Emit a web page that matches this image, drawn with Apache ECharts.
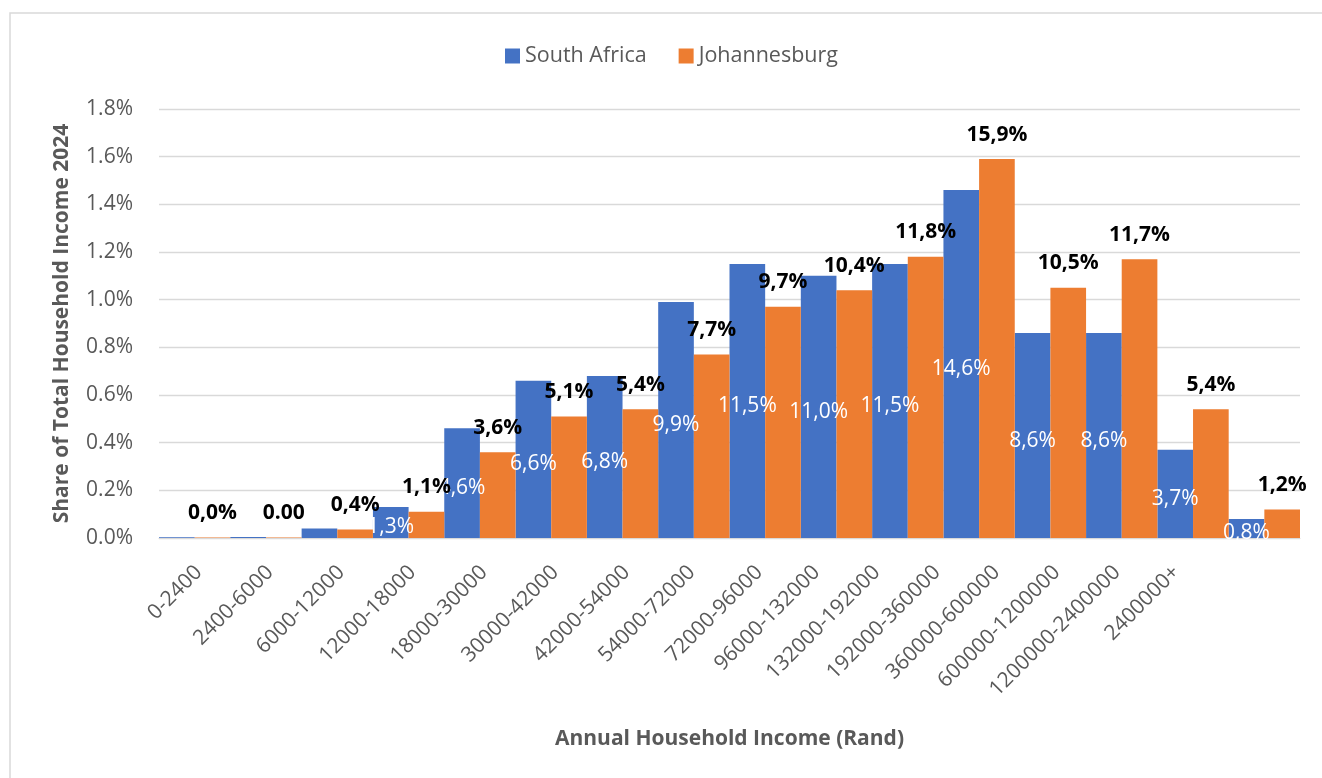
<!DOCTYPE html>
<html>
<head>
<meta charset="utf-8">
<title>Share of Total Household Income 2024</title>
<script src="https://cdn.jsdelivr.net/npm/echarts@6/dist/echarts.min.js"></script>
<style>
  html, body { margin: 0; padding: 0; background: #ffffff; }
  #chart { width: 1322px; height: 778px; }
</style>
</head>
<body>
<div id="chart"></div>
<script>
// Income brackets (Rand per year)
const categories = [
  '0-2400', '2400-6000', '6000-12000', '12000-18000', '18000-30000',
  '30000-42000', '42000-54000', '54000-72000', '72000-96000', '96000-132000',
  '132000-192000', '192000-360000', '360000-600000', '600000-1200000',
  '1200000-2400000', '2400000+'
];

// Share of households per bracket, in percent
const southAfrica = [0.03, 0.04, 0.4, 1.3, 4.6, 6.6, 6.8, 9.9, 11.5, 11.0, 11.5, 14.6, 8.6, 8.6, 3.7, 0.8];
const johannesburg = [0.02, 0.02, 0.36, 1.1, 3.6, 5.1, 5.4, 7.7, 9.7, 10.4, 11.8, 15.9, 10.5, 11.7, 5.4, 1.2];

// Value-axis ticks (the axis itself is scaled in tenths of the label value)
const yTicks = [0, 2, 4, 6, 8, 10, 12, 14, 16, 18];
const yTickLabels = ['0.0%', '0.2%', '0.4%', '0.6%', '0.8%', '1.0%', '1.2%', '1.4%', '1.6%', '1.8%'];

// Bracket whose Johannesburg label uses the plain two-decimal number format
const plainFormatIndex = [1];

// Styling ------------------------------------------------------------------
const FONT = '"Open Sans", "Noto Sans", sans-serif';
const GREY = '#595959';
const BLUE = '#4472C4';
const ORANGE = '#ED7D31';
const TICK_FONT_SIZE = 21;

// Horizontal nudge (px) of each slanted bracket label; the wide upper
// brackets sit a little closer together than the bars.
const tickLabelNudge = [0, 0, 0, 0, 0, 0, 0, -6, -10, -24, -35, -46, -58, -69, -80, -92];
const TICK_SHIFT_X = 4;    // common shift to the right
const TICK_SHIFT_Y = 9;    // common shift downwards

// A rotated (45°) label can only be moved through its padding: right padding
// slides it back along the text, top/bottom padding moves it across the text.
function tickRich() {
  const rich = {};
  tickLabelNudge.forEach(function (n, i) {
    const dx = TICK_SHIFT_X + n;
    const along = (dx - TICK_SHIFT_Y) * Math.SQRT1_2;
    const across = (dx + TICK_SHIFT_Y) * Math.SQRT1_2;
    rich['t' + i] = {
      fontFamily: FONT,
      fontSize: TICK_FONT_SIZE,
      color: GREY,
      padding: [Math.max(across, 0) * 2, Math.max(-along, 0), Math.max(-across, 0) * 2, 0]
    };
  });
  return rich;
}

function commaPercent(v) {
  return v.toFixed(1).replace('.', ',') + '%';
}

const chart = echarts.init(document.getElementById('chart'), null, { renderer: 'canvas' });

const option = {
  backgroundColor: '#ffffff',
  animation: false,
  textStyle: { fontFamily: FONT },
  graphic: [{
    type: 'rect',
    z: -10,
    silent: true,
    shape: { x: 10, y: 13, width: 1340, height: 800 },
    style: { fill: null, stroke: '#d9d9d9', lineWidth: 1.5 }
  }],
  legend: {
    top: 40,
    left: 500,
    icon: 'rect',
    itemWidth: 15,
    itemHeight: 15,
    itemGap: 32,
    textStyle: { fontFamily: FONT, fontSize: 21.5, color: GREY },
    data: ['South Africa', 'Johannesburg']
  },
  grid: { left: 159, right: 22, top: 109, bottom: 240, containLabel: false },
  xAxis: {
    type: 'category',
    data: categories,
    name: 'Annual Household Income (Rand)',
    nameLocation: 'middle',
    nameGap: 191,
    nameTextStyle: { fontFamily: FONT, fontSize: 21, fontWeight: 'bold', color: GREY },
    axisLine: { lineStyle: { color: '#d9d9d9', width: 1 } },
    axisTick: { show: false },
    axisLabel: {
      rotate: 45,
      interval: 0,
      margin: 22,
      fontFamily: FONT,
      fontSize: TICK_FONT_SIZE,
      color: GREY,
      formatter: function (v, i) { return '{t' + i + '|' + v + '}'; },
      rich: tickRich()
    }
  },
  yAxis: {
    type: 'value',
    min: 0,
    max: 18,
    interval: 2,
    name: 'Share of Total Household Income 2024',
    nameLocation: 'middle',
    nameRotate: 90,
    nameGap: 86,
    nameTextStyle: { fontFamily: FONT, fontSize: 21, fontWeight: 'bold', color: GREY },
    axisLine: { show: false },
    axisTick: { show: false },
    splitLine: { lineStyle: { color: '#d9d9d9', width: 1.3 } },
    axisLabel: {
      margin: 26,
      fontFamily: FONT,
      fontSize: TICK_FONT_SIZE,
      color: GREY,
      formatter: function (v) {
        const i = yTicks.indexOf(v);
        return i >= 0 ? yTickLabels[i] : '';
      }
    }
  },
  series: [
    {
      name: 'South Africa',
      type: 'bar',
      barGap: '0%',
      barCategoryGap: '0%',
      itemStyle: { color: BLUE },
      // labels are left off bars too short to hold them
      data: southAfrica.map(function (v) {
        return v < 0.5 ? { value: v, label: { show: false } } : v;
      }),
      label: {
        show: true,
        position: 'inside',
        offset: [0, 5],
        fontFamily: FONT,
        fontSize: 21,
        color: '#ffffff',
        formatter: function (p) { return commaPercent(p.value); }
      }
    },
    {
      name: 'Johannesburg',
      type: 'bar',
      barGap: '0%',
      barCategoryGap: '0%',
      itemStyle: { color: ORANGE },
      data: johannesburg,
      label: {
        show: true,
        position: 'top',
        distance: 14,
        fontFamily: FONT,
        fontSize: 21,
        fontWeight: 'bold',
        color: '#000000',
        formatter: function (p) {
          if (plainFormatIndex.indexOf(p.dataIndex) >= 0) {
            return (p.value / 100).toFixed(2);
          }
          return commaPercent(p.value);
        }
      }
    }
  ]
};

chart.setOption(option);
</script>
</body>
</html>
